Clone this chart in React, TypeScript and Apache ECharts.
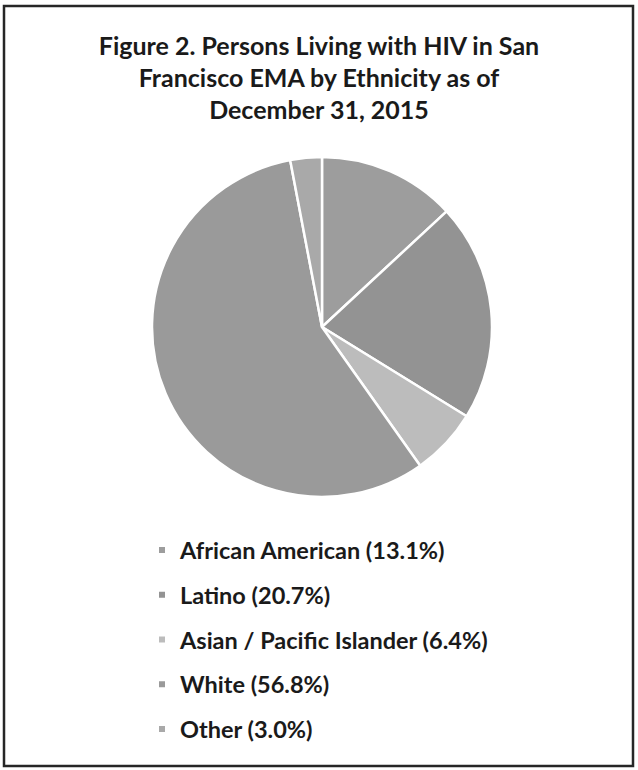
import React, { useEffect, useRef } from "react";
import * as echarts from "echarts";

const categories = ["African American", "Latino", "Asian / Pacific Islander", "White", "Other"];
const percents = [13.1, 20.7, 6.4, 56.8, 3.0];
const colors = ["#9d9d9d", "#939393", "#bcbcbc", "#9a9a9a", "#a9a9a9"];
const titleLines = ["Figure 2. Persons Living with HIV in San", "Francisco EMA by Ethnicity as of", "December 31, 2015"];

export default function App() {
  const ref = useRef<HTMLDivElement>(null);
  useEffect(() => {
    if (!ref.current) return;
    const chart = echarts.init(ref.current, null, { renderer: "svg" });
    const font = "Lato, 'Open Sans', sans-serif";
    chart.setOption({
      animation: false,
      backgroundColor: "#ffffff",
      title: {
        text: titleLines.join("\n"),
        left: "center",
        top: 29,
        padding: 0,
        textStyle: {
          fontFamily: font,
          fontWeight: "bold",
          fontSize: 25,
          lineHeight: 32,
          color: "#1a1a1a",
        },
      },
      legend: {
        orient: "vertical",
        left: 157,
        top: 538,
        padding: 0,
        itemWidth: 8,
        itemHeight: 8,
        itemGap: 20.75,
        icon: "rect",
        data: categories,
        formatter: (name: string) => {
          const i = categories.indexOf(name);
          return `${name} (${percents[i].toFixed(1)}%)`;
        },
        textStyle: {
          fontFamily: font,
          fontWeight: "bold",
          fontSize: 23.5,
          lineHeight: 24,
          color: "#1a1a1a",
          padding: [0, 0, 0, 9],
        },
      },
      graphic: [
        {
          type: "rect",
          shape: { x: 4, y: 6, width: 629, height: 760 },
          style: { fill: "none", stroke: "#262626", lineWidth: 2.5 },
          silent: true,
        },
      ],
      series: [
        {
          type: "pie",
          center: [322, 327],
          radius: [0, 170],
          startAngle: 90,
          clockwise: true,
          label: { show: false },
          labelLine: { show: false },
          itemStyle: { borderColor: "#ffffff", borderWidth: 2.5 },
          data: categories.map((c, i) => ({
            name: c,
            value: percents[i],
            itemStyle: { color: colors[i] },
          })),
        },
      ],
    });
    return () => chart.dispose();
  }, []);
  return (
    <div
      ref={ref}
      style={{ position: "fixed", left: 0, top: 0, width: 638, height: 770 }}
    />
  );
}
